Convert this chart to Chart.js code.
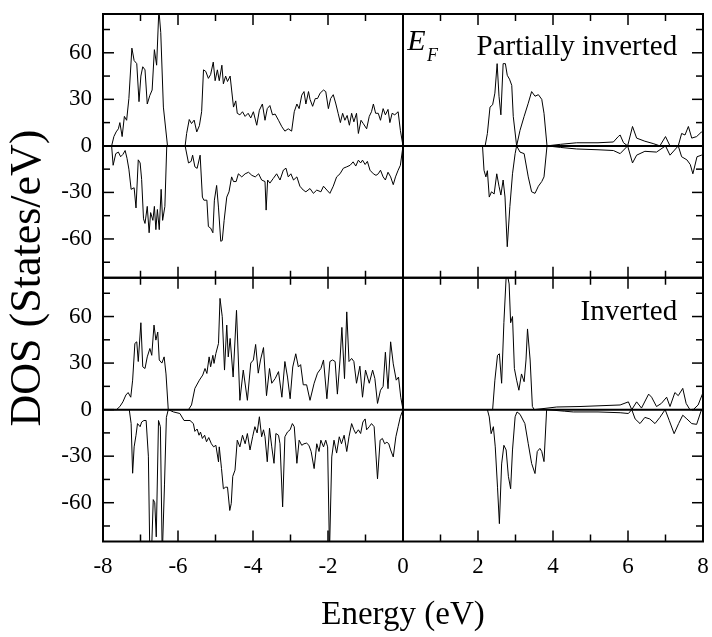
<!DOCTYPE html>
<html>
<head>
<meta charset="utf-8">
<script src="https://cdn.jsdelivr.net/npm/chart.js@4.4.1/dist/chart.umd.min.js"></script>
<style>
  html, body { margin: 0; padding: 0; background: #fff; }
  #wrap { width: 712px; height: 637px; }
</style>
</head>
<body>
<div id="wrap"><canvas id="myChart" width="712" height="637"></canvas></div>
<script>
// DOS curves, [energy (eV), states/eV]
const partialUp = [
  [-8,0],[-7.77,0],[-7.71,6],[-7.65,9],[-7.59,11],[-7.55,15],[-7.49,6],[-7.43,19],[-7.37,16.5],[-7.31,30.5],
  [-7.23,63],[-7.17,55],[-7.10,53],[-7.04,28.5],[-6.99,45],[-6.94,51],[-6.88,49],[-6.82,27],[-6.75,32.6],[-6.69,36],
  [-6.63,62],[-6.57,52],[-6.51,88],[-6.46,73],[-6.39,25],[-6.28,0],[-5.81,0],[-5.77,8],[-5.70,17],[-5.64,14.4],
  [-5.57,16.6],[-5.50,9],[-5.43,13],[-5.37,22],[-5.32,49],[-5.26,48],[-5.19,43.5],[-5.13,46],[-5.06,54],[-5.01,42],
  [-4.95,49],[-4.90,42],[-4.83,52],[-4.79,40],[-4.73,45],[-4.68,41.5],[-4.61,45],[-4.57,36],[-4.52,25],[-4.46,29],
  [-4.42,21],[-4.35,20],[-4.28,22],[-4.21,19],[-4.13,21],[-4.06,18],[-3.99,22],[-3.90,13.3],[-3.83,23],[-3.75,27],
  [-3.68,16.5],[-3.62,24],[-3.55,26],[-3.48,20],[-3.41,20.5],[-3.32,16.5],[-3.23,12.3],[-3.15,9.5],[-3.06,11],[-2.97,9.5],
  [-2.90,22],[-2.83,27],[-2.77,24],[-2.70,32.7],[-2.64,35],[-2.59,27],[-2.52,35],[-2.48,30],[-2.41,25.5],[-2.34,30.5],
  [-2.28,30.5],[-2.21,34],[-2.12,36],[-2.06,35],[-1.99,24],[-1.93,30.5],[-1.86,33],[-1.79,27],[-1.73,21],[-1.67,15],
  [-1.61,21],[-1.55,16.5],[-1.49,19.6],[-1.43,13.3],[-1.37,21],[-1.31,15.5],[-1.24,21],[-1.19,8],[-1.12,16.5],[-1.06,14.4],
  [-0.97,11],[-0.90,19],[-0.84,22],[-0.79,27],[-0.73,21],[-0.66,21],[-0.60,16.5],[-0.53,24],[-0.47,20],[-0.40,23.5],
  [-0.35,15],[-0.29,21],[-0.22,20],[-0.13,22],[-0.07,10],[0,0],[2.19,0],[2.25,8],[2.32,25],[2.39,26.5],
  [2.45,34],[2.51,53],[2.56,32],[2.61,20],[2.67,53],[2.73,53],[2.78,45.5],[2.84,43],[2.90,39],[2.94,19],
  [3.03,0],[3.12,10],[3.23,19],[3.34,27.5],[3.43,35],[3.52,32],[3.61,33],[3.70,30],[3.76,21],[3.84,0],
  [4.2,1],[4.63,2],[5.2,2],[5.61,2.5],[5.74,6],[5.79,7],[5.88,2],[5.99,0],[6.12,12.5],[6.23,5],
  [6.45,3],[6.67,1.5],[6.85,0],[7.00,6],[7.12,0],[7.34,0],[7.43,8],[7.52,7],[7.61,12.5],[7.70,5],
  [7.83,6],[7.96,9],[8,8]
];
const partialDown = [
  [-8,0],[-7.77,0],[-7.73,-12.5],[-7.66,-5],[-7.59,-4],[-7.53,-7],[-7.47,-5.5],[-7.41,-3],[-7.36,-8],[-7.31,-15],
  [-7.25,-28],[-7.17,-27],[-7.12,-40],[-7.06,-9],[-7.01,-11],[-6.97,-21.6],[-6.92,-47],[-6.88,-50],[-6.82,-39],[-6.77,-56],
  [-6.73,-43],[-6.67,-48],[-6.63,-39],[-6.59,-54],[-6.55,-41],[-6.50,-54],[-6.45,-28],[-6.41,-48],[-6.35,-39],[-6.30,0],
  [-5.81,0],[-5.72,-11],[-5.65,-10],[-5.61,-6],[-5.55,-13.5],[-5.49,-14.5],[-5.41,-6],[-5.35,-33],[-5.31,-35],[-5.23,-35],
  [-5.19,-52],[-5.13,-53],[-5.07,-56],[-5.03,-35],[-4.97,-25.5],[-4.92,-40],[-4.86,-61.5],[-4.82,-61],[-4.77,-48],[-4.70,-33],
  [-4.64,-29.6],[-4.57,-20],[-4.52,-23],[-4.45,-23],[-4.39,-18],[-4.30,-20],[-4.21,-18],[-4.12,-17],[-4.03,-19],[-3.94,-20],
  [-3.85,-18],[-3.77,-22],[-3.68,-23],[-3.65,-41.4],[-3.61,-22],[-3.55,-24],[-3.46,-21],[-3.37,-18],[-3.28,-22],[-3.19,-15.6],
  [-3.12,-14.4],[-3.06,-20],[-2.99,-18],[-2.92,-22],[-2.83,-20],[-2.75,-26],[-2.66,-28.5],[-2.59,-29.6],[-2.48,-27.5],[-2.39,-30.6],
  [-2.30,-28.5],[-2.19,-29.6],[-2.12,-26],[-2.03,-28.5],[-1.95,-30.6],[-1.86,-26],[-1.77,-20],[-1.68,-18],[-1.59,-14.4],[-1.50,-13.5],
  [-1.41,-12.5],[-1.33,-10.3],[-1.26,-13],[-1.19,-9.2],[-1.13,-11],[-1.08,-9.2],[-1.01,-12],[-0.95,-10],[-0.88,-15.7],[-0.79,-18],
  [-0.72,-19],[-0.66,-18],[-0.60,-15.7],[-0.53,-20],[-0.47,-22],[-0.40,-17],[-0.33,-20],[-0.26,-25],[-0.20,-20],[-0.13,-15.7],
  [-0.07,-12.5],[0,0],[2.12,0],[2.16,-15.7],[2.21,-20],[2.25,-16],[2.30,-33],[2.36,-29.6],[2.43,-31],[2.50,-18],
  [2.56,-26],[2.61,-31.7],[2.67,-22],[2.72,-33],[2.78,-65],[2.85,-39],[2.92,-18],[2.99,-5],[3.03,0],[3.12,-4],
  [3.23,-5],[3.34,-20],[3.43,-29.6],[3.52,-30.6],[3.61,-26],[3.70,-23],[3.76,-20],[3.84,0],[4.2,-1],[4.63,-2],
  [5.2,-2.5],[5.61,-3],[5.79,-5],[5.99,0],[6.12,-11],[6.23,-6],[6.45,-3.5],[6.76,-4],[7.0,0],[7.12,-6],
  [7.34,0],[7.43,-7],[7.57,-9],[7.66,-12],[7.73,-18],[7.84,-7],[7.96,-6],[8,-6]
];
const invertedUp = [
  [-8,0],[-7.64,0],[-7.55,2],[-7.47,5],[-7.39,9.4],[-7.33,11],[-7.26,8],[-7.21,19],[-7.15,42.7],[-7.10,43.7],
  [-7.06,31],[-6.99,56],[-6.94,27.6],[-6.88,26.5],[-6.82,34],[-6.75,39.4],[-6.70,35],[-6.64,54.5],[-6.59,44.8],[-6.54,50],
  [-6.50,32],[-6.43,30],[-6.37,34],[-6.32,23],[-6.26,0],[-5.72,0],[-5.64,3],[-5.55,13.7],[-5.43,19],[-5.34,22.3],
  [-5.28,26.5],[-5.23,23.3],[-5.17,34],[-5.13,27.6],[-5.07,35],[-5.04,29.8],[-4.99,36.2],[-4.92,42.7],[-4.88,71.7],[-4.82,59.9],
  [-4.76,25.5],[-4.70,54.5],[-4.66,34],[-4.61,45.9],[-4.53,21],[-4.44,64],[-4.35,6],[-4.26,25.5],[-4.15,6],[-4.06,30],
  [-3.99,32],[-3.93,42],[-3.86,23.5],[-3.80,32],[-3.72,40],[-3.64,9],[-3.56,26.5],[-3.50,17],[-3.41,20],[-3.32,24.5],
  [-3.23,8],[-3.15,31],[-3.08,21],[-3.01,7],[-2.94,27.5],[-2.86,36],[-2.79,27.5],[-2.73,29],[-2.66,16],[-2.57,16],
  [-2.48,6],[-2.37,17],[-2.28,23.5],[-2.19,26.5],[-2.12,32],[-2.03,7],[-1.95,31],[-1.88,32],[-1.81,31],[-1.75,10],
  [-1.68,32],[-1.63,53],[-1.56,20],[-1.50,63],[-1.44,31],[-1.37,33],[-1.31,31],[-1.24,17],[-1.15,28],[-1.08,8],
  [-1.00,25.5],[-0.90,17],[-0.81,25.5],[-0.75,20],[-0.68,4],[-0.60,12.5],[-0.53,15],[-0.47,37],[-0.40,13.5],[-0.33,43.7],
  [-0.26,29.5],[-0.18,19],[-0.12,21],[-0.06,8],[0,0],[2.39,0],[2.45,19],[2.52,35],[2.57,36],[2.63,17],
  [2.69,56],[2.76,90],[2.83,81],[2.87,56],[2.92,60],[2.97,26.5],[3.03,19],[3.09,12.5],[3.16,23],[3.23,18],
  [3.28,32],[3.32,52],[3.39,32],[3.45,2],[3.50,0],[4.1,1.7],[4.72,2],[5.79,3],[6.01,5],[6.10,0],
  [6.23,5],[6.36,1],[6.55,10],[6.63,8],[6.76,2],[6.89,4],[7.03,8],[7.12,2],[7.25,11],[7.34,9],
  [7.46,13.7],[7.55,4],[7.65,0],[7.74,0],[7.87,3],[8.0,11]
];
const invertedDown = [
  [-8,0],[-7.30,0],[-7.25,-9],[-7.21,-41],[-7.17,-24],[-7.12,-16.5],[-7.08,-9],[-7.01,-11],[-6.97,-8],[-6.91,-7],
  [-6.85,-7],[-6.79,-30],[-6.75,-95],[-6.71,-95],[-6.66,-58],[-6.62,-60],[-6.58,-82],[-6.52,-7],[-6.47,-11],[-6.42,-95],
  [-6.36,-48],[-6.31,-5],[-6.26,0],[-6.12,-1.5],[-5.95,-2.5],[-5.84,-7],[-5.68,-7],[-5.59,-9],[-5.55,-14],[-5.49,-12.5],
  [-5.44,-16.5],[-5.40,-14.5],[-5.35,-18.6],[-5.29,-16.5],[-5.24,-20.7],[-5.18,-18],[-5.11,-22],[-5.05,-24],[-4.99,-23],[-4.92,-33.7],
  [-4.90,-24],[-4.84,-38],[-4.79,-51],[-4.73,-50],[-4.68,-50],[-4.62,-65],[-4.58,-60.5],[-4.54,-43],[-4.48,-39],[-4.42,-19.7],
  [-4.35,-24],[-4.28,-16.5],[-4.21,-22],[-4.15,-15.4],[-4.08,-26],[-4.01,-17.5],[-3.95,-11],[-3.89,-15],[-3.83,-4.6],[-3.77,-17.5],
  [-3.72,-13],[-3.68,-17.5],[-3.62,-33.6],[-3.56,-12],[-3.50,-24],[-3.44,-34.6],[-3.39,-15.4],[-3.32,-16.5],[-3.28,-22],[-3.21,-62.7],
  [-3.15,-17.5],[-3.08,-14.4],[-3.01,-13],[-2.95,-9],[-2.90,-11],[-2.83,-34.6],[-2.77,-19.7],[-2.70,-23],[-2.64,-22],[-2.57,-21.6],
  [-2.51,-23],[-2.45,-27],[-2.37,-38],[-2.30,-22],[-2.24,-27],[-2.19,-19.7],[-2.12,-24],[-2.06,-19.7],[-2.01,-24],[-1.96,-92],
  [-1.90,-30.5],[-1.84,-19.7],[-1.77,-28],[-1.70,-17.5],[-1.64,-22],[-1.57,-16.5],[-1.50,-27],[-1.44,-17.5],[-1.37,-9],[-1.31,-13],
  [-1.26,-15.4],[-1.19,-13],[-1.13,-15.4],[-1.07,-8],[-1.01,-6],[-0.97,-13],[-0.90,-11],[-0.84,-9],[-0.77,-11],[-0.68,-44.6],
  [-0.61,-19.7],[-0.55,-18.6],[-0.49,-22],[-0.43,-21],[-0.38,-22],[-0.33,-26],[-0.26,-30.5],[-0.19,-17.5],[-0.13,-11],[-0.07,-4.6],
  [0,0],[2.25,0],[2.30,-4.7],[2.35,-15.5],[2.41,-11],[2.46,-24],[2.52,-50],[2.57,-73.5],[2.63,-35],[2.69,-23],
  [2.75,-26],[2.81,-43],[2.87,-51],[2.92,-26],[2.99,-4.6],[3.04,-1.5],[3.12,-3],[3.25,-9],[3.34,-22],[3.43,-34.7],
  [3.52,-41.2],[3.58,-27],[3.65,-25],[3.70,-27],[3.76,-33.5],[3.83,0],[4.3,-1],[4.54,-1.5],[5.2,-1.5],[5.79,-2],
  [6.01,-2.5],[6.10,0],[6.19,-6],[6.32,-9],[6.45,-5],[6.58,-6],[6.72,-9],[6.85,-5],[6.99,0],[7.10,-7],
  [7.23,-15.5],[7.35,-9],[7.46,-3.6],[7.57,-6],[7.70,-9],[7.83,-9.5],[7.96,0],[8,0]
];

const xTicks = [-8, -6, -4, -2, 0, 2, 4, 6, 8];
const yTicks = [-60, -30, 0, 30, 60];

const serif = "'Liberation Serif', 'Times New Roman', serif";

function toPoints(pairs) {
    return pairs.map(p => ({ x: p[0], y: p[1] }));
}

function dosLine(pairs, axisId) {
    return {
        data: toPoints(pairs),
        yAxisID: axisId,
        borderColor: '#000',
        borderWidth: 1,
        pointRadius: 0,
        tension: 0,
        fill: false,
        clip: 0
    };
}

function yScale() {
    return {
        type: 'linear',
        position: 'left',
        stack: 'dos',
        stackWeight: 1,
        min: -85,
        max: 85,
        afterBuildTicks: s => { s.ticks = yTicks.map(v => ({ value: v })); },
        // fixed width, and no extra room for the tick labels above/below
        afterFit: s => { s.width = 103; s.paddingTop = 0; s.paddingBottom = 0; },
        grid: { display: false, drawTicks: false },
        border: { display: false },
        ticks: {
            color: '#000',
            padding: 11,
            font: { family: serif, size: 23 }
        }
    };
}

// frame, inward ticks, zero lines and labels
const framePlugin = {
    id: 'frame',
    afterDatasetsDraw(chart) {
        const ctx = chart.ctx;
        const x = chart.scales.x;
        const l = x.left, r = x.right;
        ctx.save();
        ctx.strokeStyle = '#000';
        ctx.lineCap = 'butt';

        function seg(x1, y1, x2, y2, w) {
            ctx.lineWidth = w;
            ctx.beginPath();
            ctx.moveTo(x1, y1);
            ctx.lineTo(x2, y2);
            ctx.stroke();
        }

        ['yTop', 'yBot'].forEach(id => {
            const y = chart.scales[id];
            const top = y.top, bot = y.bottom;
            const y0 = y.getPixelForValue(0);
            seg(l, y0, r, y0, 2);
            for (let v = -8; v <= 8; v++) {
                const len = v % 2 === 0 ? 11 : 7;
                const px = x.getPixelForValue(v);
                seg(px, top, px, top + len, 1.5);
                seg(px, bot, px, bot - len, 1.5);
            }
            for (let v = -75; v <= 75; v += 15) {
                const len = v % 30 === 0 ? 11 : 7;
                const py = y.getPixelForValue(v);
                seg(l, py, l + len, py, 1.5);
                seg(r, py, r - len, py, 1.5);
            }
            ctx.lineWidth = 2;
            ctx.strokeRect(l, top, r - l, bot - top);
        });

        const yt = chart.scales.yTop;
        const yb = chart.scales.yBot;
        const xe = x.getPixelForValue(0);
        seg(xe, Math.min(yt.top, yb.top), xe, Math.max(yt.bottom, yb.bottom), 2);

        ctx.fillStyle = '#000';
        ctx.textBaseline = 'alphabetic';

        ctx.textAlign = 'left';
        ctx.font = `italic 30px ${serif}`;
        ctx.fillText('E', x.getPixelForValue(0.11), yt.getPixelForValue(61.7));
        ctx.font = `italic 18px ${serif}`;
        ctx.fillText('F', x.getPixelForValue(0.64), yt.getPixelForValue(54.6));

        ctx.textAlign = 'right';
        ctx.font = `29px ${serif}`;
        ctx.fillText('Partially inverted', x.getPixelForValue(7.31), yt.getPixelForValue(58.5));
        ctx.fillText('Inverted', x.getPixelForValue(7.31), yb.getPixelForValue(57.7));

        ctx.save();
        ctx.translate(28, 278);
        ctx.rotate(-Math.PI / 2);
        ctx.textAlign = 'center';
        ctx.textBaseline = 'middle';
        ctx.font = `44px ${serif}`;
        ctx.fillText('DOS (States/eV)', 0, 0);
        ctx.restore();

        ctx.restore();
    }
};

const ctx = document.getElementById('myChart').getContext('2d');
const myChart = new Chart(ctx, {
    type: 'line',
    data: {
        datasets: [
            dosLine(partialUp, 'yTop'),
            dosLine(partialDown, 'yTop'),
            dosLine(invertedUp, 'yBot'),
            dosLine(invertedDown, 'yBot')
        ]
    },
    options: {
        responsive: false,
        animation: false,
        devicePixelRatio: 1,
        layout: { padding: { top: 14, right: 9, left: 0, bottom: 0 } },
        plugins: {
            legend: { display: false },
            tooltip: { enabled: false }
        },
        scales: {
            x: {
                type: 'linear',
                min: -8,
                max: 8,
                afterBuildTicks: s => { s.ticks = xTicks.map(v => ({ value: v })); },
                afterFit: s => { s.height = 95.5; s.paddingLeft = 0; s.paddingRight = 0; },
                grid: { display: false, drawTicks: false },
                border: { display: false },
                ticks: {
                    color: '#000',
                    padding: 12,
                    maxRotation: 0,
                    autoSkip: false,
                    font: { family: serif, size: 23 }
                },
                title: {
                    display: true,
                    text: 'Energy (eV)',
                    color: '#000',
                    padding: { top: 0, bottom: 2 },
                    font: { family: serif, size: 33 }
                }
            },
            // stacked axes are laid out bottom-up in declaration order
            yBot: yScale(),
            yTop: yScale()
        }
    },
    plugins: [framePlugin]
});
</script>
</body>
</html>
